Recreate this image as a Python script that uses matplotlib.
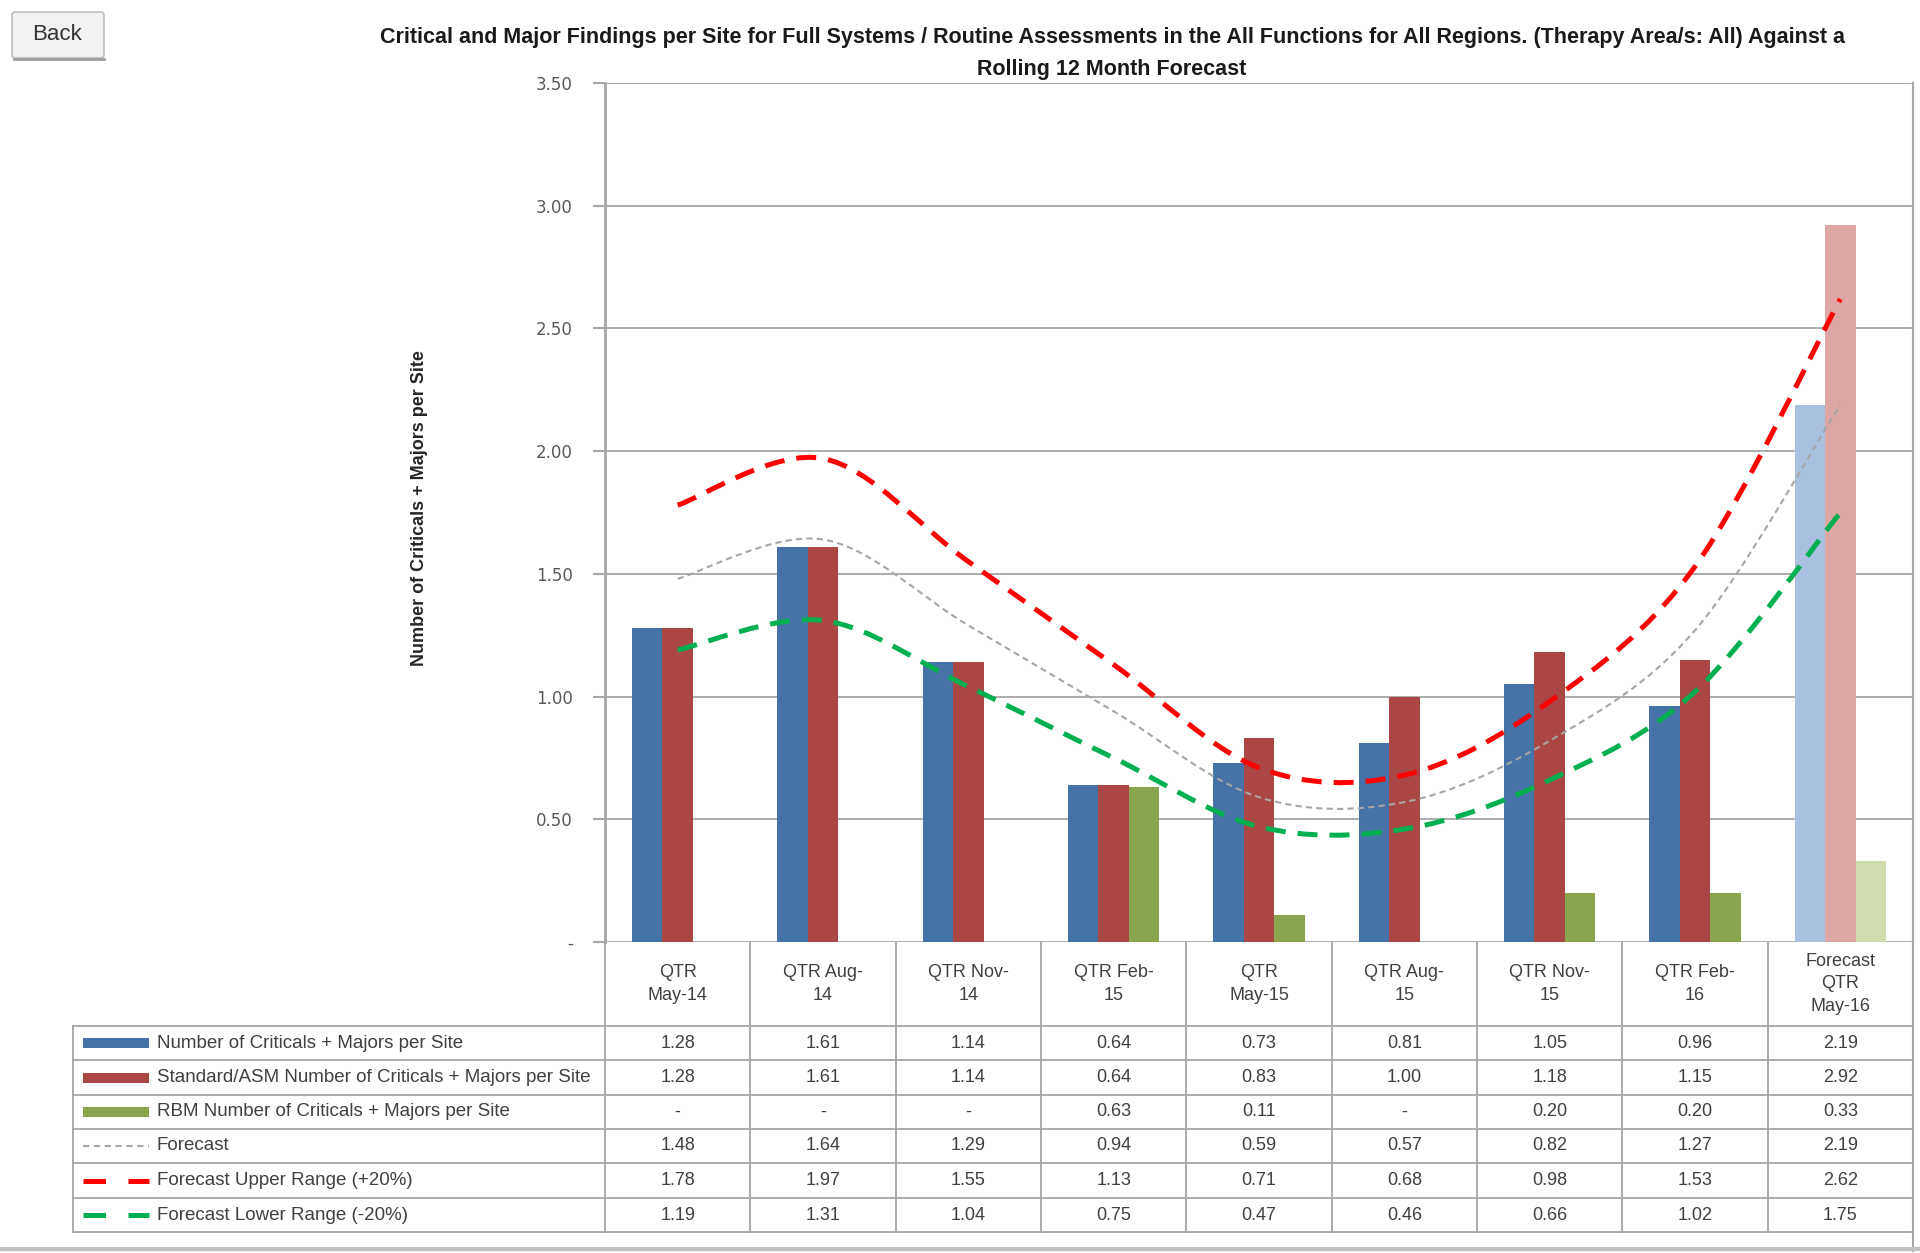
import matplotlib
matplotlib.use('Agg')
import matplotlib.pyplot as plt
from matplotlib.path import Path
from matplotlib.patches import PathPatch, Rectangle, FancyBboxPatch
from matplotlib.lines import Line2D

plt.rcParams['font.family'] = ['Liberation Sans', 'DejaVu Sans']

# data
quarters = ['QTR\nMay-14', 'QTR Aug-\n14', 'QTR Nov-\n14', 'QTR Feb-\n15', 'QTR\nMay-15',
            'QTR Aug-\n15', 'QTR Nov-\n15', 'QTR Feb-\n16', 'Forecast\nQTR\nMay-16']
crit_major = [1.28, 1.61, 1.14, 0.64, 0.73, 0.81, 1.05, 0.96, 2.19]
standard_asm = [1.28, 1.61, 1.14, 0.64, 0.83, 1.00, 1.18, 1.15, 2.92]
rbm = [0, 0, 0, 0.63, 0.11, 0, 0.20, 0.20, 0.33]
forecast = [1.48, 1.64, 1.29, 0.94, 0.59, 0.57, 0.82, 1.27, 2.19]
upper = [1.78, 1.97, 1.55, 1.13, 0.71, 0.68, 0.98, 1.53, 2.62]
lower = [1.19, 1.31, 1.04, 0.75, 0.47, 0.46, 0.66, 1.02, 1.75]

series_names = ['Number of Criticals + Majors per Site',
                'Standard/ASM Number of Criticals + Majors per Site',
                'RBM Number of Criticals + Majors per Site',
                'Forecast',
                'Forecast Upper Range (+20%)',
                'Forecast Lower Range (-20%)']

blue, red, green = '#4572A7', '#AA4643', '#89A54E'
blue_l, red_l, green_l = '#A9C1DF', '#DEA6A5', '#CFDDAE'
grid_c = '#A6A6A6'
txt_c = '#404040'

W, H = 1920, 1253
fig = plt.figure(figsize=(W / 100, H / 100), dpi=100)
fig.patch.set_facecolor('white')

# overlay in pixel coordinates for table, title, button
ov = fig.add_axes([0, 0, 1, 1], zorder=0)
ov.set_xlim(0, W)
ov.set_ylim(H, 0)
ov.axis('off')

ax_l, ax_r, ax_t, ax_b = 605, 1913, 83, 942
ax = fig.add_axes([ax_l / W, 1 - ax_b / H, (ax_r - ax_l) / W, (ax_b - ax_t) / H], zorder=1)
ax.set_xlim(-0.5, len(quarters) - 0.5)
ax.set_ylim(0, 3.5)

n = len(quarters)
x = list(range(n))
bw = 0.21
for i in x:
    fc = (blue, red, green) if i < n - 1 else (blue_l, red_l, green_l)
    ax.bar(i - bw, crit_major[i], bw, color=fc[0], zorder=2)
    ax.bar(i, standard_asm[i], bw, color=fc[1], zorder=2)
    ax.bar(i + bw, rbm[i], bw, color=fc[2], zorder=2)


def smooth_path(xs, ys):
    # excel-style smoothed line as bezier segments
    verts = [(xs[0], ys[0])]
    codes = [Path.MOVETO]
    m = len(xs)
    for k in range(m - 1):
        x0, y0 = (xs[k - 1], ys[k - 1]) if k > 0 else (xs[k], ys[k])
        x1, y1 = xs[k], ys[k]
        x2, y2 = xs[k + 1], ys[k + 1]
        x3, y3 = (xs[k + 2], ys[k + 2]) if k + 2 < m else (x2, y2)
        verts += [(x1 + (x2 - x0) / 6, y1 + (y2 - y0) / 6),
                  (x2 - (x3 - x1) / 6, y2 - (y3 - y1) / 6),
                  (x2, y2)]
        codes += [Path.CURVE4] * 3
    return Path(verts, codes)


line_styles = [
    (forecast, '#A6A6A6', 1.5, (0, (3, 2))),
    (upper, '#FF0000', 3.6, (0, (4, 2.4))),
    (lower, '#00B050', 3.6, (0, (4, 2.4))),
]
for vals, c, lw, ls in line_styles:
    ax.add_patch(PathPatch(smooth_path(x, vals), fill=False, edgecolor=c, lw=lw,
                           linestyle=ls, zorder=3, capstyle='butt'))

ax.set_yticks([0, 0.5, 1.0, 1.5, 2.0, 2.5, 3.0, 3.5])
ax.set_yticklabels(['-' if t == 0 else f'{t:.2f}' for t in ax.get_yticks()],
                   family='DejaVu Sans', fontsize=12, color='#595959')
ax.tick_params(axis='y', length=9, width=1.5, color=grid_c, pad=14)
ax.set_xticks([])
ax.grid(axis='y', color=grid_c, lw=1.3, zorder=0)
for s in ['top', 'bottom']:
    ax.spines[s].set_visible(False)
ax.spines['left'].set_color(grid_c)
ax.spines['left'].set_linewidth(2)
ax.spines['right'].set_color(grid_c)
ax.spines['right'].set_linewidth(1.5)

ov.text(420, 508, 'Number of Criticals + Majors per Site', rotation=90, ha='center',
        va='center', fontsize=13, fontweight='bold', color='#262626')

ov.text(1112, 38, 'Critical and Major Findings per Site for Full Systems / Routine Assessments in the All '
        'Functions for All Regions. (Therapy Area/s: All) Against a', ha='center', va='center',
        fontsize=15.5, fontweight='bold', color='#1a1a1a')
ov.text(1112, 69, 'Rolling 12 Month Forecast', ha='center', va='center',
        fontsize=15.5, fontweight='bold', color='#1a1a1a')

# back button
ov.add_patch(FancyBboxPatch((12, 12), 92, 46, boxstyle='round,pad=0,rounding_size=3',
                            facecolor='#F2F2F2', edgecolor='#BDBDBD', lw=1.2))
ov.plot([14, 104], [59, 59], color='#9E9E9E', lw=2)
ov.text(57, 35, 'Back', ha='center', va='center', fontsize=16, color='#333333')

# data table
row_y = [1026, 1060, 1095, 1129, 1163, 1198, 1232]
tab_l = 73
edges = [ax.transData.transform((i - 0.5, 0))[0] for i in range(n + 1)]
centers = [ax.transData.transform((i, 0))[0] for i in range(n)]
for yy in row_y:
    ov.plot([tab_l, ax_r], [yy, yy], color=grid_c, lw=1.3)
ov.plot([tab_l, tab_l], [row_y[0], row_y[-1]], color=grid_c, lw=1.3)
for e in edges:
    ov.plot([e, e], [ax_b, row_y[-1]], color=grid_c, lw=1.3)
ov.plot([ax_r, ax_r], [ax_t, H - 2], color=grid_c, lw=1.5)
ov.plot([0, W], [1249, 1249], color='#BFBFBF', lw=3)

for i, q in enumerate(quarters):
    ov.text(centers[i], (ax_b + row_y[0]) / 2, q, ha='center', va='center',
            fontsize=13, color=txt_c, linespacing=1.4)

table_rows = [crit_major, standard_asm, rbm, forecast, upper, lower]
for r, vals in enumerate(table_rows):
    yc = (row_y[r] + row_y[r + 1]) / 2
    for i, v in enumerate(vals):
        ov.text(centers[i], yc, '-' if v == 0 else f'{v:.2f}', ha='center', va='center',
                fontsize=13, color=txt_c)
    ov.text(157, yc, series_names[r], ha='left', va='center', fontsize=13.5, color=txt_c)

# legend keys
key_x0, key_x1 = 83, 149
for r, c in enumerate([blue, red, green]):
    yc = (row_y[r] + row_y[r + 1]) / 2
    ov.add_patch(Rectangle((key_x0, yc - 5), key_x1 - key_x0, 10, facecolor=c, edgecolor='none'))
key_dashes = [(0, (3, 2.2)), (0, (4.5, 4.5)), (0, (4.5, 4.5))]
for r, (vals, c, lw, ls), kd in zip(range(3, 6), line_styles, key_dashes):
    yc = (row_y[r] + row_y[r + 1]) / 2
    ov.add_line(Line2D([key_x0, key_x1], [yc, yc], color=c, lw=lw, linestyle=kd))

fig.savefig('out.png', dpi=100)
